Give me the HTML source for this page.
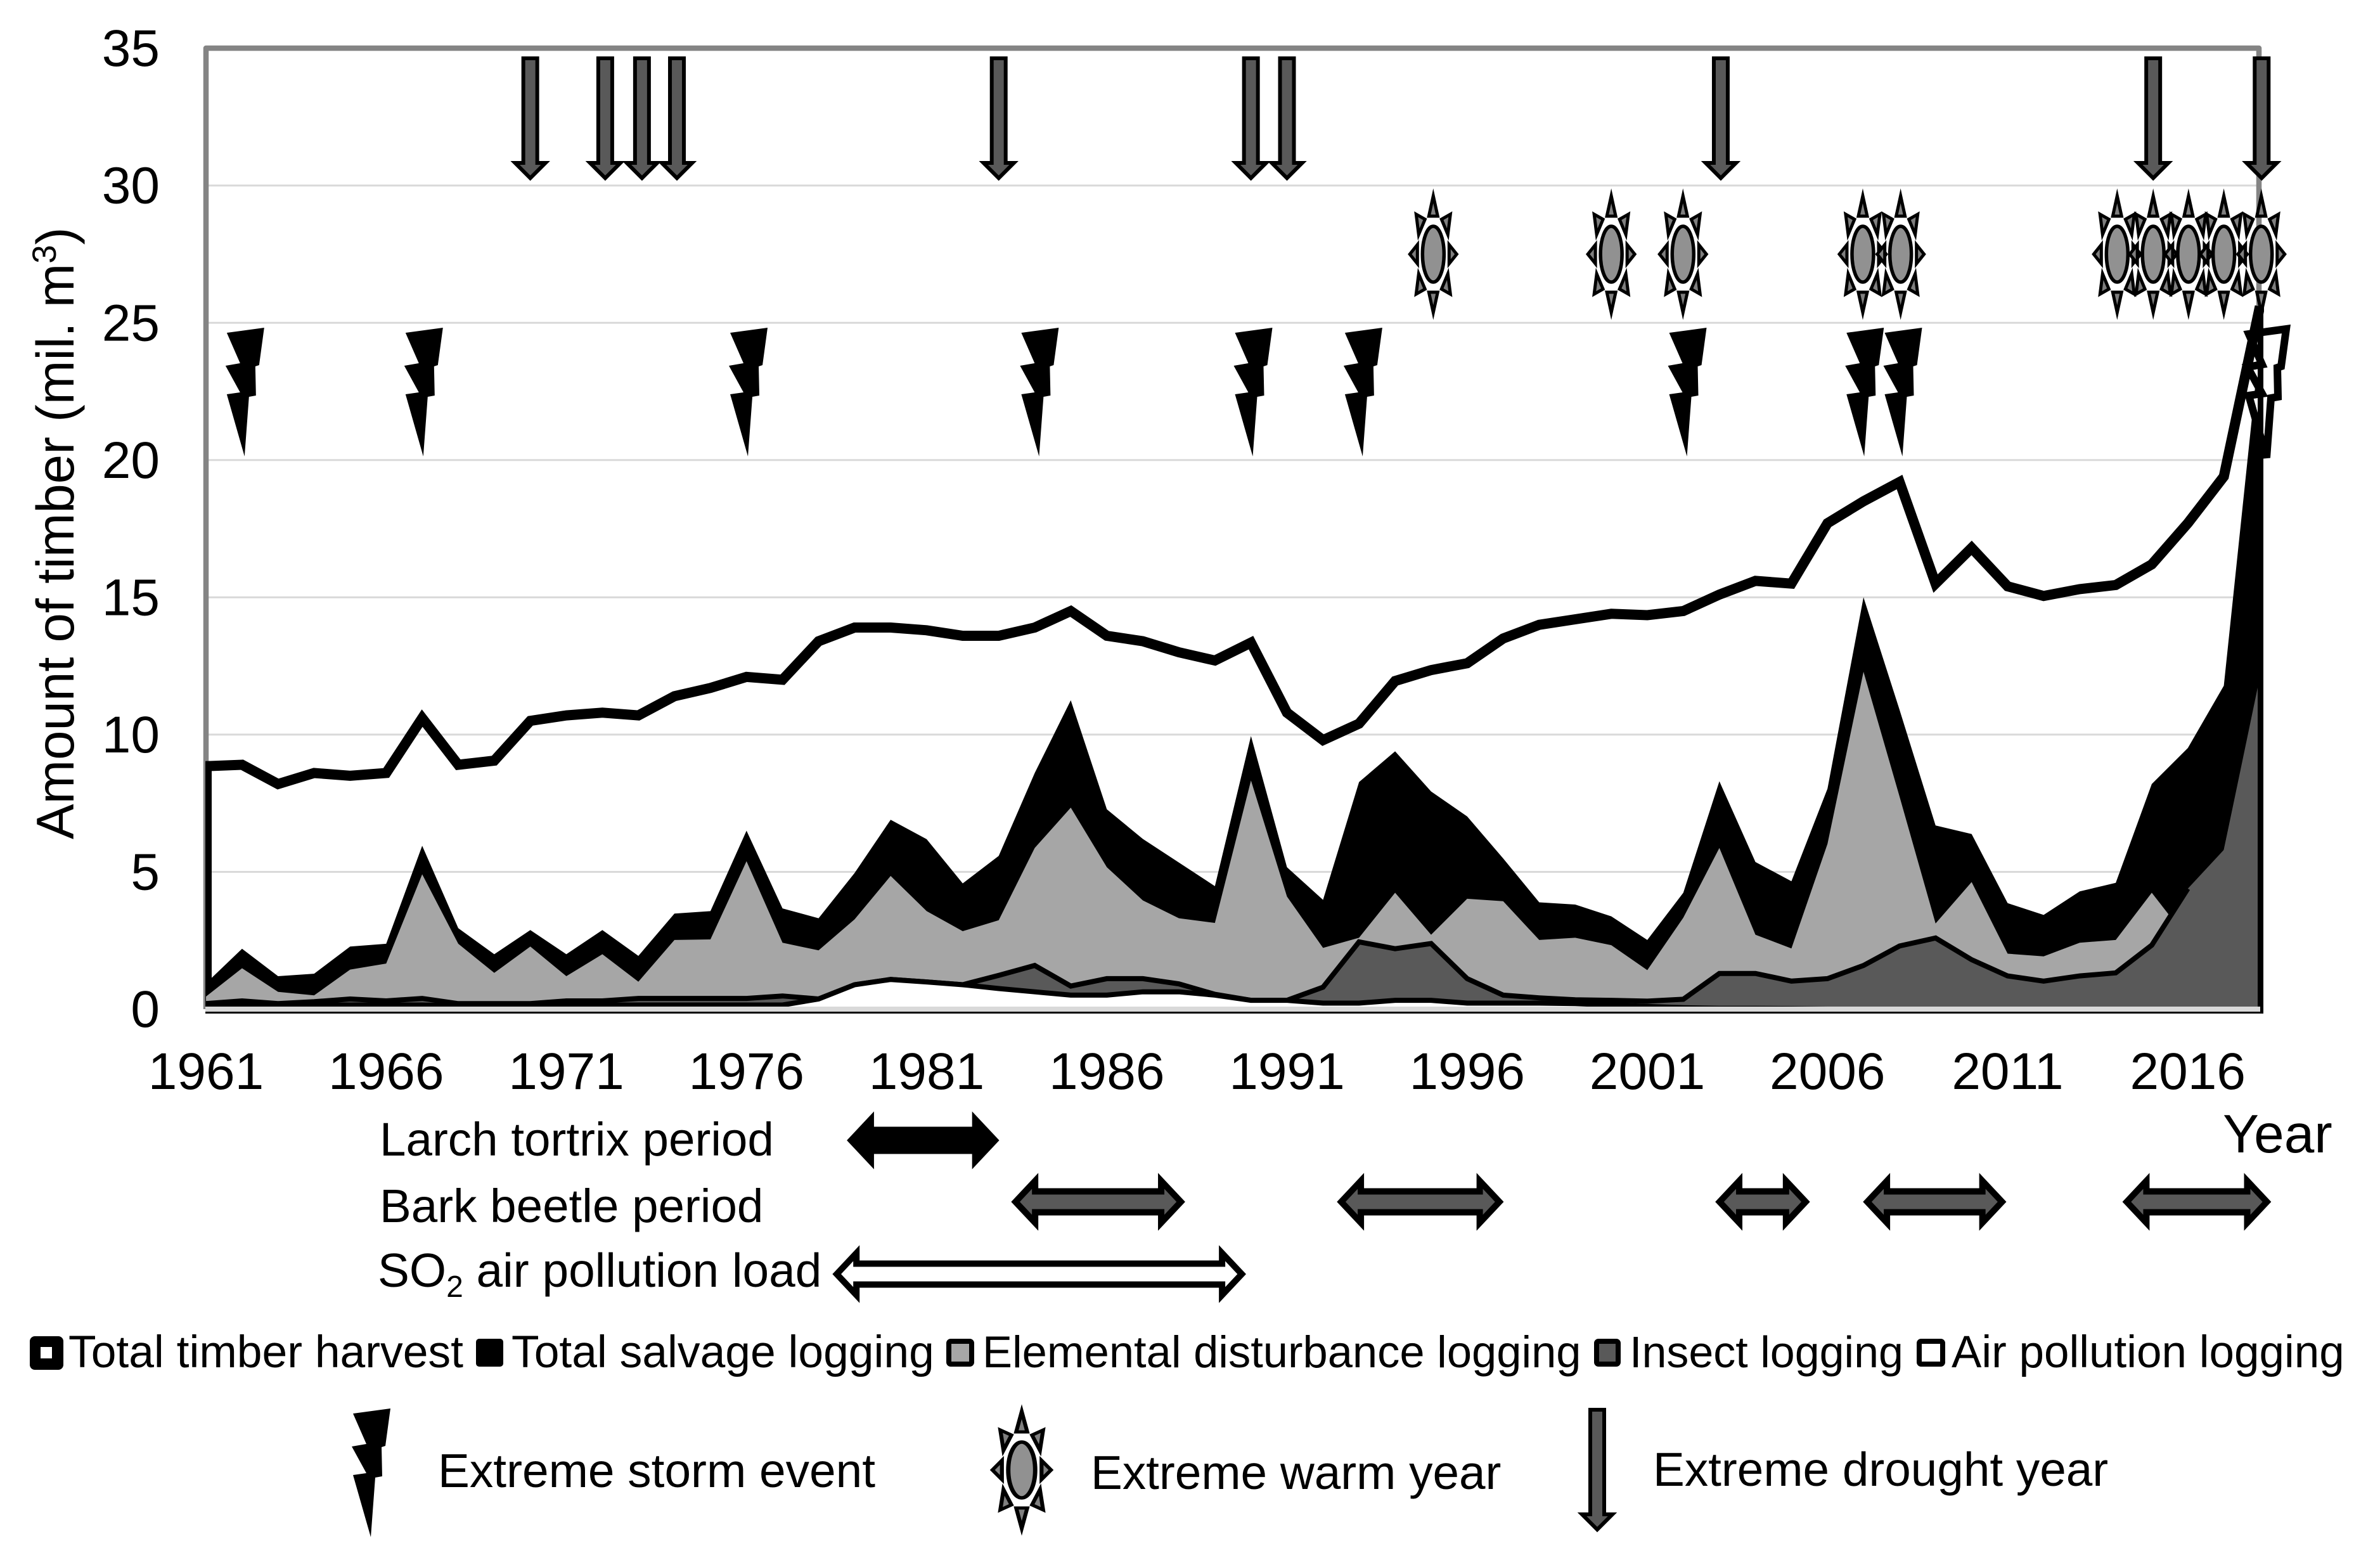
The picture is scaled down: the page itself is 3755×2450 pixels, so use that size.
<!DOCTYPE html>
<html lang="en">
<head>
<meta charset="utf-8">
<title>Amount of timber 1961–2018</title>
<style>
html,body{margin:0;padding:0;background:#fff;}
svg{display:block;}
text{font-family:"Liberation Sans",Arial,sans-serif;fill:#000;}
</style>
</head>
<body>
<svg id="chart" xmlns="http://www.w3.org/2000/svg" width="3755" height="2450" viewBox="0 0 3755 2450">
  <rect width="3755" height="2450" fill="#fff"/>
  <g id="grid"></g>
  <g id="frame"></g>
  <g id="areas"></g>
  <g id="events"></g>
  <g id="overlay"></g>
  <g id="yticks"></g>
  <g id="xticks"></g>
  <text transform="translate(116,1324) rotate(-90)" font-size="83.4">Amount of timber (mil. m<tspan dy="-28" font-size="53">3</tspan><tspan dy="28">)</tspan></text>
  <text x="3507" y="1818" font-size="85.5">Year</text>
  <text x="599" y="1823" font-size="74.6">Larch tortrix period</text>
  <text x="599" y="1928" font-size="74.6">Bark beetle period</text>
  <text x="596" y="2030" font-size="74.8">SO<tspan dy="16" font-size="48">2</tspan><tspan dy="-16"> air pollution load</tspan></text>
  <g id="periods"></g>
  <g>
    <g>
      <rect x="47" y="2108" width="53" height="53" rx="8" fill="#000"/><rect x="64" y="2125" width="18" height="18" fill="#fff"/>
      <text x="108" y="2157" font-size="71.4">Total timber harvest</text>
    </g>
    <g>
      <rect x="751" y="2112" width="43" height="44" rx="5" fill="#000"/>
      <text x="807" y="2157" font-size="71.4">Total salvage logging</text>
    </g>
    <g>
      <rect x="1497" y="2116" width="36" height="36" rx="3" fill="#a6a6a6" stroke="#000" stroke-width="8"/>
      <text x="1550" y="2157" font-size="70.5">Elemental disturbance logging</text>
    </g>
    <g>
      <rect x="2519" y="2116" width="34" height="36" rx="3" fill="#595959" stroke="#000" stroke-width="8"/>
      <text x="2571" y="2157" font-size="70">Insect logging</text>
    </g>
    <g>
      <rect x="3028" y="2116" width="37" height="36" rx="3" fill="#fff" stroke="#000" stroke-width="8"/>
      <text x="3079" y="2157" font-size="71">Air pollution logging</text>
    </g>
  </g>
  <g id="eventlegend">
    <text x="691" y="2346" font-size="74.8">Extreme storm event</text>
    <text x="1721" y="2349" font-size="74.7">Extreme warm year</text>
    <text x="2608" y="2344" font-size="74.7">Extreme drought year</text>
  </g>
</svg>
<script>
// ---- chart data ----
const startYear = 1961;
const yTickValues = [0,5,10,15,20,25,30,35];
const xTickLabels = [1961,1966,1971,1976,1981,1986,1991,1996,2001,2006,2011,2016];
const totalHarvest = [8.85,8.9,8.2,8.6,8.5,8.6,10.6,8.9,9.05,10.5,
  10.7,10.8,10.7,11.4,11.7,12.1,12.0,13.4,13.9,13.9,
  13.8,13.6,13.6,13.9,14.5,13.6,13.4,13.0,12.7,13.35,
  10.8,9.8,10.4,11.95,12.35,12.6,13.5,14.0,14.2,14.4,
  14.35,14.5,15.1,15.6,15.5,17.7,18.5,19.2,15.5,16.8,
  15.4,15.05,15.3,15.45,16.2,17.7,19.4,25.6];
const totalSalvage = [.94,2.2,1.2,1.29,2.28,2.38,5.95,2.95,2.0,2.88,
  2.0,2.88,1.94,3.48,3.57,6.5,3.67,3.31,4.96,6.9,
  6.19,4.58,5.58,8.6,11.25,7.28,6.2,5.34,4.48,9.95,
  5.17,3.98,8.27,9.39,7.93,7.02,5.49,3.89,3.81,3.38,
  2.52,4.24,8.3,5.36,4.66,8.03,15.0,10.9,6.69,6.38,
  3.86,3.43,4.29,4.6,8.2,9.51,11.78,24.3];
const elemental = [.46,1.49,.63,.5,1.44,1.66,4.91,2.38,1.32,2.28,
  1.2,2.0,1.0,2.52,2.54,5.39,2.42,2.14,3.27,4.85,
  3.57,2.84,3.24,5.87,7.34,5.17,3.96,3.31,3.14,8.33,
  4.1,2.23,2.6,4.24,2.71,4.02,3.93,2.52,2.6,2.33,
  1.42,3.33,5.87,2.71,2.21,6.02,12.29,7.74,3.12,4.63,
  2.02,1.92,2.42,2.52,4.24,2.55,5.8,12.0];
const insect = [.2,.3,.2,.27,.37,.3,.39,.2,.2,.2,
  .3,.3,.39,.39,.39,.39,.48,.37,.89,1.08,
  .99,.89,1.23,1.59,.84,1.11,1.11,.92,.54,.32,
  .32,.8,2.45,2.2,2.39,1.11,.51,.41,.34,.32,
  .29,.36,1.3,1.3,1.02,1.11,1.59,2.3,2.59,1.8,
  1.21,1.02,1.21,1.32,2.33,4.39,5.8,12.1];
const airPollution = [.12,.15,.12,.15,.15,.15,.15,.12,.12,.12,
  .15,.15,.15,.15,.15,.15,.15,.37,.89,1.08,
  .99,.89,.75,.63,.51,.51,.63,.63,.51,.32,
  .32,.22,.22,.32,.32,.22,.22,.22,.2,.15,
  .1,.05,.03,.03,.02,0,0,0,0,0,
  0,0,0,0,0,0,0,0];
const stormYears = [1962.07,1967.03,1976.04,1984.12,1990.05,1993.1,2002.1,2007.02,2008.08];
const warmYears = [1995.06,2000.0,2001.99,2006.98,2008.03,2014.04,2015.04,2016.02,2017.0,2018.04];
const droughtYears = [1970.0,1972.08,1973.1,1974.07,1983.0,1990.0,1991.0,2003.04,2015.04,2018.05];
const larchPeriods = [[1978.8,1983.0]];
const barkPeriods = [[1983.36,1988.16],[1992.4,1997.0],[2002.9,2005.5],[2007.0,2010.95],[2014.2,2018.3]];
const so2Periods = [[1978.4,1989.85]];

// ---- axis functions ----
const NS = 'http://www.w3.org/2000/svg';
function xScale(year){ return 325 + (year - startYear) * 56.85; }
function yScale(v){ return 1592 - v * 43.31; }
function make(parent, tag, attrs){
  const el = document.createElementNS(NS, tag);
  for (const k in attrs) el.setAttribute(k, attrs[k]);
  parent.appendChild(el);
  return el;
}
function topPoints(values){
  return values.map((v,i) => xScale(startYear + i).toFixed(1) + ',' + yScale(v).toFixed(1));
}
function areaPoints(values){
  return [xScale(startYear).toFixed(1) + ',' + yScale(0)].concat(topPoints(values), [xScale(startYear + values.length - 1).toFixed(1) + ',' + yScale(0)]).join(' ');
}

const svg = document.getElementById('chart');
const defs = make(svg, 'defs', {});
const clip = make(defs, 'clipPath', {id:'plotclip'});
make(clip, 'rect', {x:324, y:0, width:3248, height:1600});

// gridlines
const grid = document.getElementById('grid');
yTickValues.filter(v => v > 0 && v < 35).forEach(v => {
  const l = make(grid, 'rect', {x:326, y:yScale(v) - 1.5, width:3236, height:3, fill:'#d9d9d9'});
  
  
});

// frame
const frame = document.getElementById('frame');
const fr = make(frame, 'path', {d:'M325 1592 V76 H3564 V1592', fill:'none', stroke:'#848484', 'stroke-width':8.5, 'stroke-linejoin':'round'});



// areas
const areas = document.getElementById('areas');
areas.setAttribute('clip-path', 'url(#plotclip)');
const leftEdge = make(areas, 'rect', {x:324, y:yScale(totalHarvest[0]) - 8, width:10, height:yScale(0) - yScale(totalHarvest[0]) + 8, fill:'#000'});



const salvageArea = make(areas, 'polygon', {points:areaPoints(totalSalvage), fill:'#000'});



const elementalArea = make(areas, 'polygon', {points:areaPoints(elemental), fill:'#a6a6a6'});



const insectArea = make(areas, 'polygon', {points:areaPoints(insect), fill:'#595959'});



const insectLine = make(areas, 'polyline', {points:topPoints(insect).slice(0, 56).join(' '), fill:'none', stroke:'#000', 'stroke-width':8, 'stroke-linejoin':'miter', 'stroke-miterlimit':4});



const airArea = make(areas, 'polygon', {points:areaPoints(airPollution), fill:'#fff'});



const airLine = make(areas, 'polyline', {points:topPoints(airPollution).join(' '), fill:'none', stroke:'#000', 'stroke-width':8, 'stroke-linejoin':'miter', 'stroke-miterlimit':4});



// event markers
const boltShape = [[-28,-195],[31,-203],[23,-144],[17,-142],[18,-96],[7,-94],[0,0],[-28,-98],[-7,-101],[-30,-143],[-7,-147]];
function drawBolt(parent, cx, tipY, fill, stroke, sw){
  return make(parent, 'polygon', {
    points: boltShape.map(p => (cx + p[0]) + ',' + (tipY + p[1])).join(' '),
    fill: fill, stroke: stroke, 'stroke-width': sw, 'stroke-linejoin': 'miter'
  });
}
function drawDrought(parent, cx, top, tip){
  return make(parent, 'polygon', {
    points: [[-11,top],[11,top],[11,tip-29],[24,tip-29],[0,tip-5],[-24,tip-29],[-11,tip-29]].map(p => (cx + p[0]) + ',' + p[1]).join(' '),
    fill: '#595959', stroke: '#000', 'stroke-width': 6, 'stroke-linejoin': 'miter'
  });
}
function drawWarm(parent, cx, cy, sx){
  const g = make(parent, 'g', {transform:'translate(' + cx + ',' + cy + ') scale(' + sx + ',1)'});
  const tris = [
    [[0,-92],[-7,-60],[7,-60]], [[0,92],[-7,60],[7,60]],
    [[37,0],[25,-15],[25,15]], [[-37,0],[-25,-15],[-25,15]],
    [[27,-63],[13,-55],[23,-31]], [[-27,-63],[-13,-55],[-23,-31]],
    [[27,63],[13,55],[23,31]], [[-27,63],[-13,55],[-23,31]]
  ];
  tris.forEach(t => make(g, 'polygon', {points:t.map(p => p.join(',')).join(' '), fill:'#7f7f7f', stroke:'#000', 'stroke-width':5, 'stroke-linejoin':'miter', 'stroke-miterlimit':8}));
  make(g, 'ellipse', {cx:0, cy:0, rx:17, ry:44, fill:'#919191', stroke:'#000', 'stroke-width':5.5});
  return g;
}
const events = document.getElementById('events');
stormYears.forEach(yr => {
  const b = drawBolt(events, xScale(yr), 720, '#000', 'none', 0);
  
  
});
const stormWhite = drawBolt(events, 3576, 722, '#fff', '#000', 12);


warmYears.forEach(yr => {
  const w = drawWarm(events, xScale(yr), 401, 1);
  
  
});
droughtYears.forEach(yr => {
  const d = drawDrought(events, xScale(yr), 92, 286);
  
  
});

// event legend symbols
const eventLegend = document.getElementById('eventlegend');
const legendBolt = drawBolt(eventLegend, 585, 2425, '#000', 'none', 0);


const legendWarm = drawWarm(eventLegend, 1612, 2319, 1.25);


const legendDrought = drawDrought(eventLegend, 2520, 2224, 2418);



// harvest line and baseline
const overlay = document.getElementById('overlay');
overlay.setAttribute('clip-path', 'url(#plotclip)');
const harvestLine = make(overlay, 'polyline', {points:topPoints(totalHarvest).join(' '), fill:'none', stroke:'#000', 'stroke-width':16, 'stroke-linejoin':'miter', 'stroke-miterlimit':6});



const rightEdge = make(overlay, 'rect', {x:3562, y:yScale(totalHarvest[57]), width:9, height:yScale(0) - yScale(totalHarvest[57]) + 7, fill:'#000'});



const baseLine = make(overlay, 'rect', {x:324, y:1596, width:3247, height:3, fill:'#000'});



const axisBand = make(overlay, 'rect', {x:324, y:1588, width:3242, height:8, fill:'#d9d9d9'});



// ticks
const yTicks = document.getElementById('yticks');
yTickValues.forEach(v => {
  const t = make(yTicks, 'text', {x:252, y:yScale(v) + 28, 'font-size':82, 'text-anchor':'end'});
  t.textContent = String(v);
  
  
});
const xTicks = document.getElementById('xticks');
xTickLabels.forEach(yr => {
  const t = make(xTicks, 'text', {x:xScale(yr), y:1718, 'font-size':82, 'text-anchor':'middle'});
  t.textContent = String(yr);
  
  
});

// period arrows
function drawPeriod(parent, fromYear, toYear, yc, fill){
  const a = xScale(fromYear), b = xScale(toYear);
  const pts = [[a+6,yc],[a+37,yc-33],[a+37,yc-16.5],[b-37,yc-16.5],[b-37,yc-33],[b-6,yc],[b-37,yc+33],[b-37,yc+16.5],[a+37,yc+16.5],[a+37,yc+33]];
  return make(parent, 'polygon', {points:pts.map(p => p.join(',')).join(' '), fill:fill, stroke:'#000', 'stroke-width':10, 'stroke-linejoin':'miter', 'stroke-miterlimit':6});
}
const periods = document.getElementById('periods');
larchPeriods.forEach(p => {
  const el = drawPeriod(periods, p[0], p[1], 1799, '#000');
  
  
});
barkPeriods.forEach(p => {
  const el = drawPeriod(periods, p[0], p[1], 1896, '#595959');
  
  
});
so2Periods.forEach(p => {
  const el = drawPeriod(periods, p[0], p[1], 2010, '#fff');
  
  
});
</script>
</body>
</html>
